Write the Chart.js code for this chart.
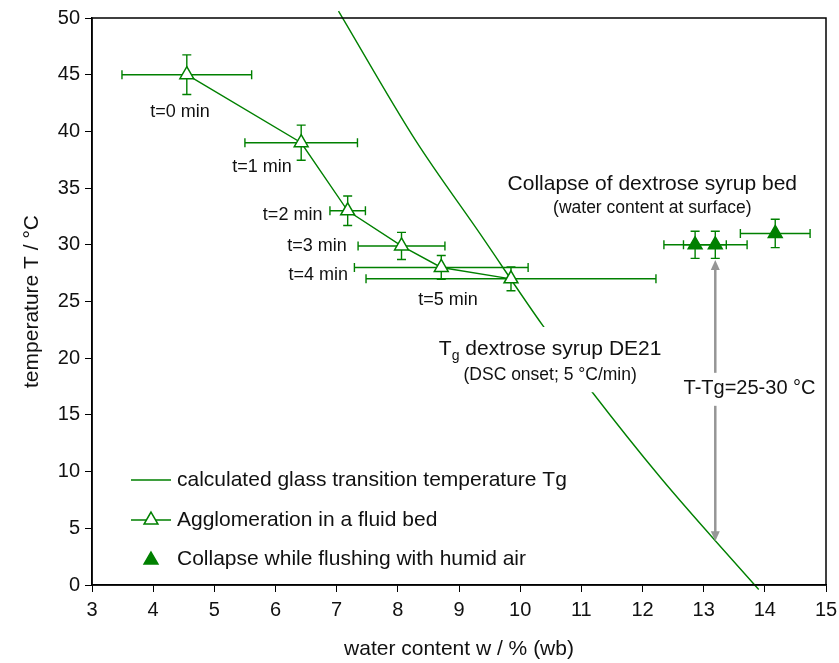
<!DOCTYPE html>
<html>
<head>
<meta charset="utf-8">
<script src="https://cdn.jsdelivr.net/npm/chart.js@4.4.1/dist/chart.umd.min.js"></script>
<style>
  html, body { margin: 0; padding: 0; background: #fff; }
  #wrap { width: 839px; height: 663px; }
</style>
</head>
<body>
<div id="wrap"><canvas id="chart" width="839" height="663"></canvas></div>
<script>
// calculated glass transition temperature (water content %, temperature °C)
const tgWater = [7.03, 8.29, 9.34, 10.38, 11.18, 12.29, 13.19, 13.9];
const tgTemp = [50.6, 39.2, 31.0, 22.8, 17.0, 9.5, 3.9, -0.4];

// agglomeration in a fluid bed, t = 0..5 min
const aggWater = [4.55, 6.42, 7.18, 8.06, 8.71, 9.85];
const aggTemp = [45.0, 39.0, 33.0, 29.9, 28.0, 27.0];
const aggWaterErr = [1.06, 0.92, 0.29, 0.71, 1.42, 2.37];
const aggTempErr = [1.75, 1.55, 1.3, 1.2, 1.05, 1.05];
const aggLabels = ['t=0 min', 't=1 min', 't=2 min', 't=3 min', 't=4 min', 't=5 min'];

// collapse while flushing with humid air
const colWater = [12.86, 13.19, 14.17];
const colTemp = [30.0, 30.0, 31.0];
const colWaterErr = [0.51, 0.52, 0.57];
const colTempErr = [1.2, 1.2, 1.25];

const xTickValues = [3, 4, 5, 6, 7, 8, 9, 10, 11, 12, 13, 14, 15];
const yTickValues = [0, 5, 10, 15, 20, 25, 30, 35, 40, 45, 50];

const GREEN = '#008000';
const FONT = "'Liberation Sans', Arial, sans-serif";

// where the point labels sit (data units)
const aggLabelPos = [[4.44, 41.7], [5.78, 36.9], [6.28, 32.6], [6.68, 29.9], [6.70, 27.3], [8.82, 25.1]];

function toPoints(xs, ys) {
    return xs.map((v, i) => ({ x: v, y: ys[i] }));
}

function triangle(ctx, x, y, r) {
    ctx.beginPath();
    ctx.moveTo(x, y - r);
    ctx.lineTo(x + 0.866 * r, y + 0.5 * r);
    ctx.lineTo(x - 0.866 * r, y + 0.5 * r);
    ctx.closePath();
}

const errorBars = {
    id: 'errorBars',
    beforeDatasetsDraw(chart) {
        const { ctx, scales: { x, y } } = chart;
        const cap = 4.5;
        chart.data.datasets.forEach((ds) => {
            if (!ds.errX) return;
            ctx.save();
            ctx.strokeStyle = ds.borderColor;
            ctx.lineWidth = 1.4;
            ds.data.forEach((p, j) => {
                const px = x.getPixelForValue(p.x);
                const py = y.getPixelForValue(p.y);
                const x0 = x.getPixelForValue(p.x - ds.errX[j]);
                const x1 = x.getPixelForValue(p.x + ds.errX[j]);
                const y0 = y.getPixelForValue(p.y - ds.errY[j]);
                const y1 = y.getPixelForValue(p.y + ds.errY[j]);
                ctx.beginPath();
                ctx.moveTo(x0, py); ctx.lineTo(x1, py);
                ctx.moveTo(x0, py - cap); ctx.lineTo(x0, py + cap);
                ctx.moveTo(x1, py - cap); ctx.lineTo(x1, py + cap);
                ctx.moveTo(px, y0); ctx.lineTo(px, y1);
                ctx.moveTo(px - cap, y0); ctx.lineTo(px + cap, y0);
                ctx.moveTo(px - cap, y1); ctx.lineTo(px + cap, y1);
                ctx.stroke();
            });
            ctx.restore();
        });
    }
};

const frame = {
    id: 'frame',
    afterDraw(chart) {
        const { ctx, chartArea: a } = chart;
        ctx.save();
        ctx.strokeStyle = '#000';
        ctx.lineWidth = 1.5;
        ctx.strokeRect(a.left, a.top, a.right - a.left, a.bottom - a.top);
        ctx.restore();
    }
};

const annotations = {
    id: 'annotations',
    afterDatasetsDraw(chart) {
        const { ctx, scales: { x, y } } = chart;
        ctx.save();
        ctx.textBaseline = 'middle';
        ctx.textAlign = 'center';
        ctx.fillStyle = '#111';

        // t = n min labels
        ctx.font = '18px ' + FONT;
        aggLabels.forEach((t, i) => {
            ctx.fillText(t, x.getPixelForValue(aggLabelPos[i][0]), y.getPixelForValue(aggLabelPos[i][1]));
        });

        // collapse heading
        const cx = x.getPixelForValue(12.16);
        ctx.font = '21px ' + FONT;
        ctx.fillText('Collapse of dextrose syrup bed', cx, y.getPixelForValue(35.3));
        ctx.font = '17.5px ' + FONT;
        ctx.fillText('(water content at surface)', cx, y.getPixelForValue(33.2));

        // Tg label with white box over the line
        const tx = x.getPixelForValue(10.49);
        const ty1 = y.getPixelForValue(20.9);
        const ty2 = y.getPixelForValue(18.5);
        ctx.font = '21px ' + FONT;
        const wT = ctx.measureText('T').width;
        const wRest = ctx.measureText(' dextrose syrup DE21').width;
        ctx.font = '14px ' + FONT;
        const wg = ctx.measureText('g').width;
        const total = wT + wg + wRest;
        ctx.fillStyle = '#fff';
        ctx.fillRect(tx - total / 2 - 6, ty1 - 21, total + 12, ty2 - ty1 + 38);
        ctx.fillStyle = '#111';
        ctx.textAlign = 'left';
        ctx.textBaseline = 'alphabetic';
        let sx = tx - total / 2;
        ctx.font = '21px ' + FONT;
        ctx.fillText('T', sx, ty1 + 7.5);
        sx += wT;
        ctx.font = '14px ' + FONT;
        ctx.fillText('g', sx, ty1 + 12);
        sx += wg;
        ctx.font = '21px ' + FONT;
        ctx.fillText(' dextrose syrup DE21', sx, ty1 + 7.5);
        ctx.textAlign = 'center';
        ctx.textBaseline = 'middle';
        ctx.font = '17.5px ' + FONT;
        ctx.fillText('(DSC onset; 5 \u00B0C/min)', tx, ty2);

        // T-Tg arrow
        const ax = x.getPixelForValue(13.19);
        const aTop = y.getPixelForValue(28.65);
        const aBot = y.getPixelForValue(3.85);
        const head = 10, hw = 4.5;
        ctx.strokeStyle = '#969696';
        ctx.fillStyle = '#969696';
        ctx.lineWidth = 2.5;
        ctx.beginPath();
        ctx.moveTo(ax, aTop + head - 1);
        ctx.lineTo(ax, aBot - head + 1);
        ctx.stroke();
        ctx.beginPath();
        ctx.moveTo(ax, aTop); ctx.lineTo(ax + hw, aTop + head); ctx.lineTo(ax - hw, aTop + head);
        ctx.closePath(); ctx.fill();
        ctx.beginPath();
        ctx.moveTo(ax, aBot); ctx.lineTo(ax + hw, aBot - head); ctx.lineTo(ax - hw, aBot - head);
        ctx.closePath(); ctx.fill();

        const lx = x.getPixelForValue(13.75);
        const ly = y.getPixelForValue(17.3);
        ctx.font = '20px ' + FONT;
        const lw = ctx.measureText('T-Tg=25-30 \u00B0C').width;
        ctx.fillStyle = '#fff';
        ctx.fillRect(lx - lw / 2 - 3, ly - 16, lw + 6, 33);
        ctx.fillStyle = '#111';
        ctx.fillText('T-Tg=25-30 \u00B0C', lx, ly);

        // legend
        const lgX = 131, lgText = 177;
        const rows = [480, 520, 559];
        ctx.textAlign = 'left';
        ctx.font = '21px ' + FONT;
        ctx.strokeStyle = GREEN;
        ctx.lineWidth = 1.4;
        ctx.beginPath();
        ctx.moveTo(lgX, rows[0]); ctx.lineTo(lgX + 40, rows[0]);
        ctx.moveTo(lgX, rows[1]); ctx.lineTo(lgX + 40, rows[1]);
        ctx.stroke();
        ctx.fillStyle = '#fff';
        ctx.lineWidth = 1.5;
        triangle(ctx, lgX + 20, rows[1], 8);
        ctx.fill(); ctx.stroke();
        ctx.fillStyle = GREEN;
        triangle(ctx, lgX + 20, rows[2] + 1, 8);
        ctx.fill(); ctx.stroke();
        ctx.fillStyle = '#111';
        ctx.fillText('calculated glass transition temperature Tg', lgText, rows[0]);
        ctx.fillText('Agglomeration in a fluid bed', lgText, rows[1]);
        ctx.fillText('Collapse while flushing with humid air', lgText, rows[2]);
        ctx.restore();
    }
};

const ctx = document.getElementById('chart').getContext('2d');
new Chart(ctx, {
    type: 'scatter',
    data: {
        datasets: [
            {
                label: 'Collapse while flushing with humid air',
                data: toPoints(colWater, colTemp),
                errX: colWaterErr,
                errY: colTempErr,
                borderColor: GREEN,
                backgroundColor: GREEN,
                pointStyle: 'triangle',
                pointRadius: 8,
                pointBorderWidth: 1.5,
                showLine: false
            },
            {
                label: 'Agglomeration in a fluid bed',
                data: toPoints(aggWater, aggTemp),
                errX: aggWaterErr,
                errY: aggTempErr,
                borderColor: GREEN,
                backgroundColor: '#fff',
                pointStyle: 'triangle',
                pointRadius: 8,
                pointBorderWidth: 1.5,
                borderWidth: 1.4,
                showLine: true
            },
            {
                label: 'calculated glass transition temperature Tg',
                data: toPoints(tgWater, tgTemp),
                borderColor: GREEN,
                borderWidth: 1.4,
                pointRadius: 0,
                showLine: true,
                cubicInterpolationMode: 'monotone',
                clip: false
            }
        ]
    },
    options: {
        responsive: false,
        animation: false,
        events: [],
        layout: { padding: { top: 18, right: 13, left: 0, bottom: 0 } },
        plugins: {
            legend: { display: false },
            tooltip: { enabled: false }
        },
        scales: {
            x: {
                type: 'linear',
                min: 3,
                max: 15,
                afterBuildTicks: (s) => { s.ticks = xTickValues.map(v => ({ value: v })); },
                afterFit: (s) => { s.height = 78; s.paddingLeft = 0; s.paddingRight = 0; },
                grid: { drawOnChartArea: false, drawTicks: true, tickLength: 7, color: '#000' },
                border: { display: true, color: '#000', width: 1.5 },
                ticks: { color: '#111', padding: 6, font: { size: 20, family: FONT } },
                title: {
                    display: true,
                    text: 'water content w / % (wb)',
                    color: '#111',
                    font: { size: 21, family: FONT },
                    padding: { top: 0, bottom: 1 }
                }
            },
            y: {
                type: 'linear',
                min: 0,
                max: 50,
                afterBuildTicks: (s) => { s.ticks = yTickValues.map(v => ({ value: v })); },
                afterFit: (s) => { s.width = 92; s.paddingTop = 0; s.paddingBottom = 0; },
                grid: { drawOnChartArea: false, drawTicks: true, tickLength: 7, color: '#000' },
                border: { display: true, color: '#000', width: 1.5 },
                ticks: { color: '#111', padding: 5, font: { size: 20, family: FONT } },
                title: {
                    display: true,
                    text: 'temperature T / \u00B0C',
                    color: '#111',
                    font: { size: 21, family: FONT },
                    padding: { top: 20, bottom: 0 }
                }
            }
        }
    },
    plugins: [errorBars, annotations, frame]
});
</script>
</body>
</html>
